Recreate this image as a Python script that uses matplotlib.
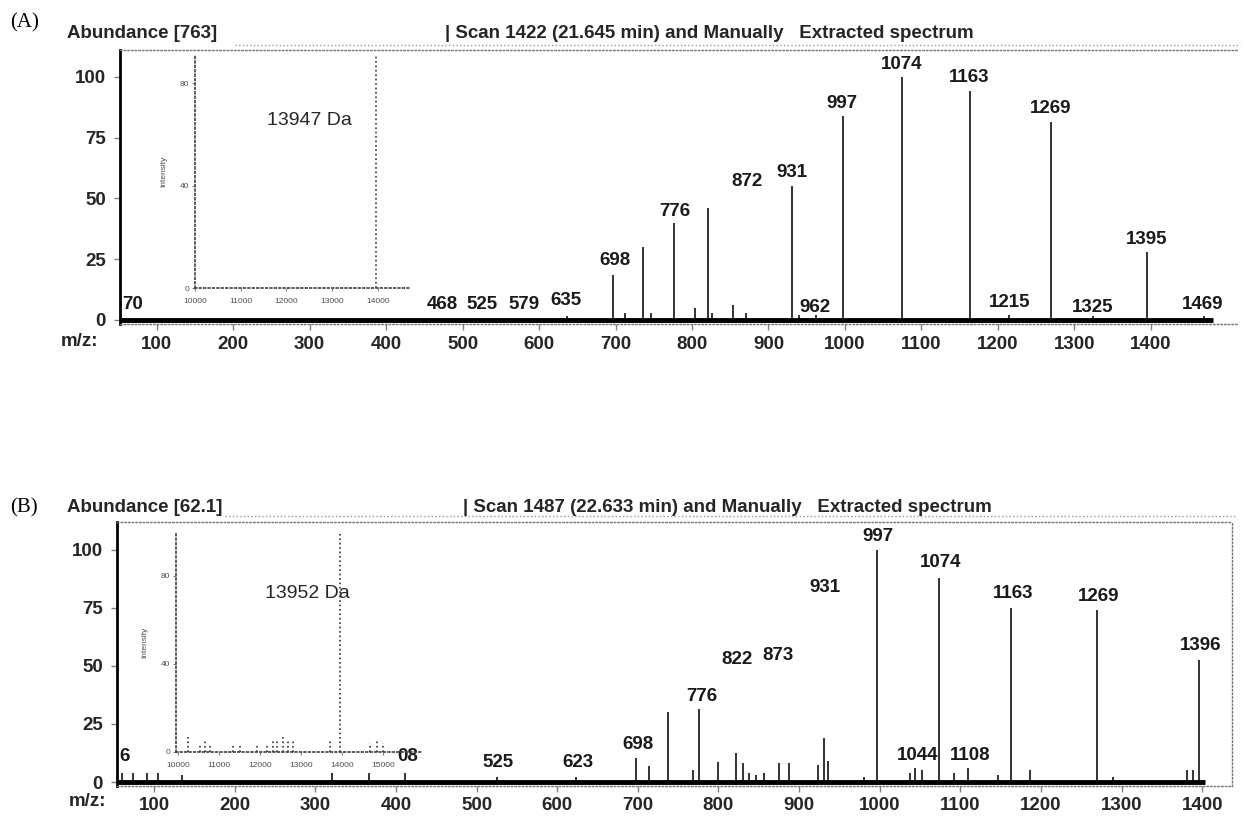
import matplotlib
matplotlib.use("Agg")
import matplotlib.pyplot as plt

plt.rcParams['font.family'] = ['Liberation Sans', 'DejaVu Sans']

# ---------------- data: panel (A) ----------------
mz_a = [697, 736, 777, 821, 931, 997, 1074, 1163, 1269, 1395,
        636, 713, 747, 804, 826, 853, 871, 940, 962, 1215, 1325, 1469]
int_a = [18.5, 30, 40, 46, 55, 84, 100, 94, 81.5, 28,
         1.5, 3, 3, 5, 3, 6, 3, 2, 2, 2, 1.5, 1.5]
scan_a = [52, 1481]
lab_a_txt = ["70", "468", "525", "579", "635", "698", "776", "872", "931", "962",
             "997", "1074", "1163", "1269", "1215", "1325", "1395", "1469"]
lab_a_x = [69, 474, 525, 580, 635, 699, 778, 872, 931, 961,
           996, 1074, 1162, 1269, 1216, 1324, 1395, 1468]
lab_a_y = [6.2, 6.2, 6.2, 6.2, 8.2, 24.3, 44.4, 56.8, 60.5, 5.3,
           89, 105, 99.6, 87, 7, 5.3, 33, 6.2]
inset_a_da = [13947]
inset_a_int = [91]

# ---------------- data: panel (B) ----------------
mz_b = [60, 74, 91, 105, 135, 321, 366, 411, 525, 623,
        698, 714, 737, 769, 776, 800, 822, 831, 838, 846, 856,
        875, 887, 923, 931, 936, 980, 997, 1038, 1044, 1053,
        1074, 1092, 1109, 1147, 1163, 1187, 1269, 1289, 1381, 1389, 1396]
int_b = [4, 4, 4, 4, 3, 4, 4, 4, 2, 2,
         10.3, 7, 30, 5, 31.5, 8.6, 12.5, 8, 4, 3, 4,
         8, 8, 7.5, 19, 9, 2, 100, 4, 6, 5,
         88, 4, 6, 3, 75, 5, 74, 2, 5, 5, 52.5]
scan_b = [55, 1404]
lab_b_txt = ["6", "08", "525", "623", "698", "776", "822", "873", "931",
             "997", "1074", "1044", "1108", "1163", "1269", "1396"]
lab_b_x = [64, 414, 527, 626, 700, 779, 823, 874, 932,
           998, 1076, 1047, 1112, 1166, 1271, 1398]
lab_b_y = [10.8, 10.8, 8.2, 8.2, 16, 37, 52.6, 54.3, 83.6,
           105.6, 94.4, 11.6, 11.6, 81, 79.7, 58.6]
inset_b_da = [10244, 10540, 10660, 10780, 11340, 11510, 11930, 12170, 12320,
              12410, 12560, 12680, 12800, 13710, 13952, 14680, 14850, 15000]
inset_b_int = [6.8, 3, 5, 3, 3, 3, 3, 3, 5, 6, 7, 6, 5, 6, 99, 4, 5, 4]

W, H = 1245, 816
FS = 13.5


def box(l, t, r, b):
    # pixel box -> figure fraction rect
    return [l / W, 1 - b / H, (r - l) / W, (b - t) / H]


def fx(x):
    return x / W


def fy(y):
    return 1 - y / H


fig = plt.figure(figsize=(W / 100, H / 100), dpi=100)


def spectrum(rect, xlim, ylim, xticks, mz, inten, scan, ltxt, lx, ly, xpad, right=True):
    ax = fig.add_axes(rect)
    ax.set_xlim(xlim)
    ax.set_ylim(ylim)
    ax.vlines(mz, 0, inten, color='0.2', lw=1.4)
    ax.plot(scan, [0, 0], color='k', lw=3.5, solid_capstyle='butt')
    for t, x, y in zip(ltxt, lx, ly):
        ax.text(x, y, t, ha='center', va='center', fontsize=FS,
                fontweight='bold', color='0.1')
    ax.spines['left'].set_color('k')
    ax.spines['left'].set_linewidth(2)
    for s in ['top', 'right', 'bottom']:
        ax.spines[s].set_linestyle(':')
        ax.spines[s].set_color('0.45')
        ax.spines[s].set_linewidth(1)
    ax.spines['right'].set_visible(right)
    ax.set_yticks([0, 25, 50, 75, 100])
    ax.set_xticks(xticks)
    ax.tick_params(axis='y', direction='out', length=4, width=1, color='0.5',
                   labelsize=FS, pad=6)
    ax.tick_params(axis='x', direction='out', length=4, width=1, color='0.5',
                   labelsize=FS, pad=xpad)
    for lbl in ax.get_xticklabels() + ax.get_yticklabels():
        lbl.set_fontweight('bold')
        lbl.set_color('0.15')
    return ax


def inset(rect, xlim, ylim, xticks, da, inten, name, ls):
    ax = fig.add_axes(rect)
    ax.patch.set_alpha(0)
    ax.set_xlim(xlim)
    ax.set_ylim(ylim)
    ax.vlines(da, 0, inten, color='0.2', lw=1.2, linestyles=ls)
    ax.spines['top'].set_visible(False)
    ax.spines['right'].set_visible(False)
    for s in ['left', 'bottom']:
        ax.spines[s].set_linestyle(':')
        ax.spines[s].set_color('0.25')
        ax.spines[s].set_linewidth(1.2)
    ax.set_yticks([0, 40, 80])
    ax.set_xticks(xticks)
    ax.tick_params(axis='y', direction='out', length=2, width=0.8, color='0.5',
                   labelsize=6, pad=2, labelcolor='0.3')
    ax.tick_params(axis='x', direction='out', length=2, width=0.8, color='0.5',
                   labelsize=6, pad=5, labelcolor='0.3')
    ax.set_ylabel('Intensity', fontsize=6, color='0.3', labelpad=9)
    ax.text(0.53, 0.72, name, transform=ax.transAxes, ha='center', va='center',
            fontsize=14, color='0.15')
    return ax


# ---------------- panel A ----------------
ax_a = spectrum(box(120, 50, 1238, 323.6), (52, 1514), (-1.5, 111),
                range(100, 1500, 100), mz_a, int_a, scan_a,
                lab_a_txt, lab_a_x, lab_a_y, 5, right=False)
inset(box(195, 55, 410, 288), (10000, 14700), (0, 91),
      range(10000, 15000, 1000), inset_a_da, inset_a_int, '13947 Da', ':')
fig.text(fx(10), fy(23), '(A)', family='Liberation Serif', fontsize=15,
         va='center', ha='left')
fig.text(fx(67), fy(33), 'Abundance [763]', fontsize=FS, fontweight='bold',
         va='center', ha='left', color='0.15')
fig.text(fx(445), fy(33), '| Scan 1422 (21.645 min) and Manually   Extracted spectrum',
         fontsize=FS, fontweight='bold', va='center', ha='left', color='0.15')
fig.add_artist(plt.Line2D([fx(235), fx(1240)], [fy(45), fy(45)], ls=':',
                          color='0.6', lw=1))
fig.text(fx(80), fy(341), 'm/z:', fontsize=FS, fontweight='bold',
         va='center', ha='center', color='0.15')

# ---------------- panel B ----------------
ax_b = spectrum(box(117, 522, 1232, 785.5), (54, 1437), (-1.5, 112),
                range(100, 1500, 100), mz_b, int_b, scan_b,
                lab_b_txt, lab_b_x, lab_b_y, 4)
inset(box(176, 532, 423, 752), (9950, 15975), (0, 100),
      range(10000, 16000, 1000), inset_b_da, inset_b_int, '13952 Da', ':')
fig.text(fx(10), fy(508), '(B)', family='Liberation Serif', fontsize=15,
         va='center', ha='left')
fig.text(fx(67), fy(507), 'Abundance [62.1]', fontsize=FS, fontweight='bold',
         va='center', ha='left', color='0.15')
fig.text(fx(463), fy(507), '| Scan 1487 (22.633 min) and Manually   Extracted spectrum',
         fontsize=FS, fontweight='bold', va='center', ha='left', color='0.15')
fig.add_artist(plt.Line2D([fx(225), fx(1235)], [fy(516), fy(516)], ls=':',
                          color='0.6', lw=1))
fig.text(fx(87), fy(801), 'm/z:', fontsize=FS, fontweight='bold',
         va='center', ha='center', color='0.15')

fig.savefig('out.png', dpi=100)
